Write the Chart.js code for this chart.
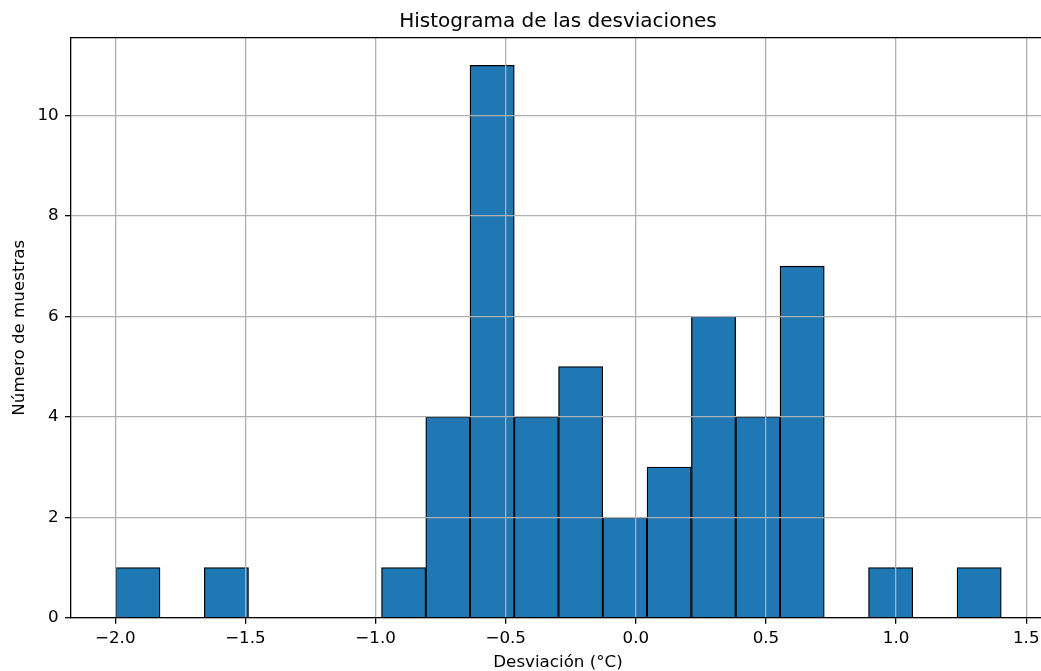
<!DOCTYPE html>
<html>
<head>
<meta charset="utf-8">
<title>Histograma de las desviaciones</title>
<script src="https://cdn.jsdelivr.net/npm/chart.js@4.4.1/dist/chart.umd.min.js"></script>
<style>
  html, body { margin: 0; padding: 0; overflow: hidden; background: #ffffff; }
  canvas { display: block; }
</style>
</head>
<body>
<canvas id="histChart" width="1041" height="671"></canvas>
<script>
// Histogram data (20 bins)
const binEdges = [
  -1.998, -1.828, -1.658, -1.488, -1.318, -1.147, -0.977, -0.807, -0.637, -0.467, -0.297,
  -0.127, 0.043, 0.213, 0.384, 0.554, 0.724, 0.894, 1.064, 1.234, 1.404,
]
const counts = [1, 0, 1, 0, 0, 0, 1, 4, 11, 4, 5, 2, 3, 6, 4, 7, 0, 1, 0, 1]

// Axis ticks and limits
const xTickValues = [-2.0, -1.5, -1.0, -0.5, 0.0, 0.5, 1.0, 1.5]
const xTickLabels = ["\u22122.0", "\u22121.5", "\u22121.0", "\u22120.5", "0.0", "0.5", "1.0", "1.5"]
const yTickValues = [0, 2, 4, 6, 8, 10]
const xLimits = [-2.170, 1.572]
const yLimits = [0, 11.55]

// Bars are placed at bin centres
const histPoints = counts.map((c, i) => ({ x: (binEdges[i] + binEdges[i + 1]) / 2, y: c }))

Chart.defaults.font.family = "'DejaVu Sans', sans-serif"
Chart.defaults.color = "#000000"

// the original axes run a few pixels past the right edge of the figure
const overflowRight = 4
const extendRight = {
  id: "extendRight",
  afterLayout(chart) {
    const area = chart.chartArea
    area.right = chart.width + overflowRight
    area.width = area.right - area.left
    const xs = chart.scales.x
    xs.right = area.right
    xs.width = xs.right - xs.left
    xs.configure()
    // title is centred over the axes, not the canvas
    if (chart.titleBlock) {
      chart.titleBlock.left = area.left
      chart.titleBlock.right = area.right
      chart.titleBlock.width = area.width
    }
  },
}

// matplotlib draws a top spine too
const topSpine = {
  id: "topSpine",
  afterDraw(chart) {
    const { ctx, chartArea } = chart
    ctx.save()
    ctx.strokeStyle = "#000000"
    ctx.lineWidth = 1.3
    ctx.beginPath()
    ctx.moveTo(chartArea.left, chartArea.top)
    ctx.lineTo(chartArea.right, chartArea.top)
    ctx.stroke()
    ctx.restore()
  },
}

const ctx = document.getElementById("histChart")

new Chart(ctx, {
  type: "bar",
  data: {
    datasets: [
      {
        data: histPoints,
        backgroundColor: "#1f77b4",
        borderColor: "#000000",
        borderWidth: 1.3,
        barPercentage: 1,
        categoryPercentage: 1,
      },
    ],
  },
  options: {
    responsive: false,
    devicePixelRatio: 1,
    animation: false,
    layout: { padding: 0 },
    scales: {
      x: {
        type: "linear",
        min: xLimits[0],
        max: xLimits[1],
        offset: false,
        afterBuildTicks: (scale) => {
          scale.ticks = xTickValues.map((v) => ({ value: v }))
        },
        afterFit: (scale) => {
          scale.height = 671 - 617.7
        },
        ticks: {
          autoSkip: false,
          maxRotation: 0,
          padding: 4.5,
          font: { size: 16.7 },
          color: "#000000",
          callback: (value, index) => xTickLabels[index],
        },
        grid: {
          offset: false,
          color: "#b0b0b0",
          lineWidth: 1.3,
          tickColor: "#000000",
          tickLength: 6,
          z: 1,
        },
        border: { color: "#000000", width: 1.3, z: 2 },
        title: {
          display: true,
          text: "Desviación (°C)",
          font: { size: 16.7 },
          color: "#000000",
          padding: { top: 0, bottom: -1.3 },
        },
      },
      y: {
        min: yLimits[0],
        max: yLimits[1],
        afterBuildTicks: (scale) => {
          scale.ticks = yTickValues.map((v) => ({ value: v }))
        },
        afterFit: (scale) => {
          scale.width = 71
        },
        ticks: {
          padding: 6.3,
          font: { size: 16.7 },
          color: "#000000",
          callback: (value) => String(value),
        },
        grid: {
          color: "#b0b0b0",
          lineWidth: 1.3,
          tickColor: "#000000",
          tickLength: 6,
          z: 1,
        },
        border: { color: "#000000", width: 1.3, z: 2 },
        title: {
          display: true,
          text: "Número de muestras",
          font: { size: 16.7 },
          color: "#000000",
          padding: { top: 10, bottom: 0 },
        },
      },
    },
    plugins: {
      legend: { display: false },
      tooltip: { enabled: false },
      title: {
        display: true,
        text: "Histograma de las desviaciones",
        font: { size: 20, weight: "normal" },
        color: "#000000",
        padding: { top: 9.4, bottom: 4.3 },
      },
    },
  },
  plugins: [extendRight, topSpine],
})
</script>
</body>
</html>
